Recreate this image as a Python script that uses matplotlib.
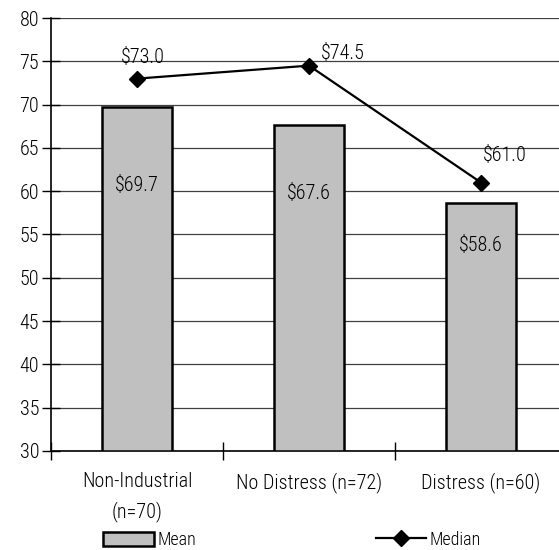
import matplotlib.pyplot as plt
from matplotlib import font_manager
from matplotlib.patches import Patch
from matplotlib.lines import Line2D

# узкий шрифт, первый из установленных
names = {f.name for f in font_manager.fontManager.ttflist}
prefer = ['Liberation Sans Narrow', 'Roboto Condensed', 'Archivo Narrow',
          'PT Sans Narrow', 'Pragati Narrow']
narrow = [n for n in prefer if n in names]
plt.rcParams['font.family'] = narrow[:1] + ['Liberation Sans', 'DejaVu Sans']
plt.rcParams['font.weight'] = 'light'

# Данные: средняя и медианная величина по группам
groups = ["Non-Industrial\n(n=70)", "No Distress (n=72)", "Distress (n=60)"]
mean_vals = [69.7, 67.6, 58.6]
median_vals = [73.0, 74.5, 61.0]

# смещения подписей (в пикселях)
mean_offsets = [(0, -78), (0, -68), (0, -42)]
median_offsets = [(6, 21), (34, 12), (24, 27)]

fs = 14.5

fig = plt.figure(figsize=(5.59, 5.5), dpi=100)
ax = fig.add_axes([51 / 559, 99 / 550, 516 / 559, 433 / 550])

x = list(range(len(groups)))
ax.bar(x, [v - 30 for v in mean_vals], bottom=30, width=0.41,
       color="#c0c0c0", edgecolor="black", linewidth=1.8, zorder=3)
ax.plot(x, median_vals, color="black", linewidth=1.6, marker="D",
        markersize=8, zorder=4)

for i, v in enumerate(mean_vals):
    ax.annotate(f"${v:.1f}", (i, v), xytext=mean_offsets[i],
                textcoords="offset pixels", ha="center", va="center",
                fontsize=fs, zorder=5)
for i, v in enumerate(median_vals):
    ax.annotate(f"${v:.1f}", (i, v), xytext=median_offsets[i],
                textcoords="offset pixels", ha="center", va="center",
                fontsize=fs, zorder=5)

ax.set_xlim(-0.5, 2.5)
ax.set_ylim(30, 80)
ax.set_yticks(range(30, 81, 5))
ax.set_xticks([-0.5, 0.5, 1.5, 2.5])
ax.set_xticklabels([])
ax.set_xticks(x, minor=True)
ax.set_xticklabels(groups, minor=True, fontsize=fs, linespacing=1.6)
ax.tick_params(axis="x", which="minor", length=0, pad=15)
ax.tick_params(axis="x", which="major", direction="inout", length=13, width=1)
ax.tick_params(axis="y", direction="inout", length=13, width=1, labelsize=fs, pad=2)
ax.grid(axis="y", color="#404040", linewidth=0.9, zorder=0)
for s in ["top", "right"]:
    ax.spines[s].set_visible(False)
ax.spines["left"].set_linewidth(1.2)
ax.spines["bottom"].set_linewidth(1.2)

handles = [Patch(facecolor="#c0c0c0", edgecolor="black", linewidth=1.8),
           Line2D([], [], color="black", linewidth=1.6, marker="D", markersize=8)]
fig.legend(handles, ["Mean", "Median"], loc="center left",
           bbox_to_anchor=(87 / 559, 10 / 550), ncol=2, frameon=False,
           fontsize=13, handlelength=2.8, handletextpad=0.2,
           columnspacing=9.95, handleheight=0.8)

fig.savefig("out.png", dpi=100)
